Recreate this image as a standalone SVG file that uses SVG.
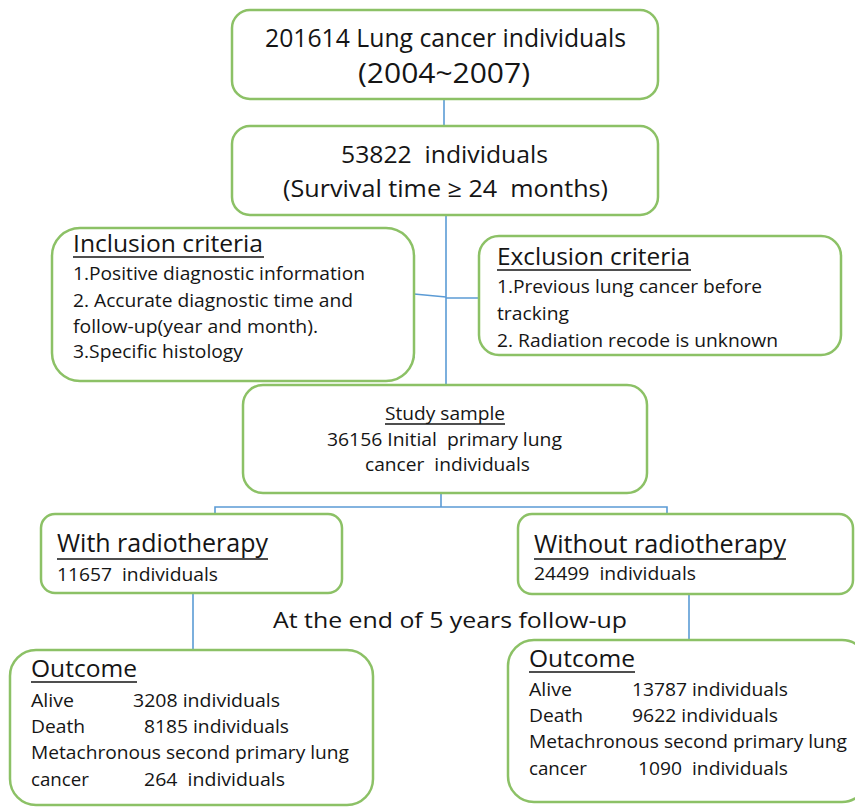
<svg xmlns="http://www.w3.org/2000/svg" width="855" height="809" viewBox="0 0 855 809">
<style>
.box{fill:#fff;stroke:#8CC166;stroke-width:2.5}
.con{stroke:#5B9BD5;stroke-width:1.6;fill:none}
text{font-family:"Open Sans","Liberation Sans",sans-serif;fill:#151515;white-space:pre}
.ul{stroke:#151515;stroke-width:1.6}
</style>
<rect width="855" height="809" fill="#fff"/>
<g id="connectors">
<line class="con" x1="444" y1="99" x2="444" y2="126"/>
<line class="con" x1="446" y1="215" x2="446" y2="385"/>
<polyline class="con" points="414,294 446,297"/>
<line class="con" x1="446" y1="298" x2="479" y2="298"/>
<line class="con" x1="414" y1="305" x2="414" y2="358"/>
<line class="con" x1="441" y1="493" x2="441" y2="507"/>
<polyline class="con" points="215,514 215,507 667,507 667,514"/>
<line class="con" x1="193" y1="593" x2="193" y2="650"/>
<line class="con" x1="689" y1="594" x2="689" y2="640"/>
</g>
<g id="n1">
<rect class="box" x="232" y="10" width="426" height="89" rx="18"/>
<text x="265" y="47" font-size="25" textLength="361" lengthAdjust="spacingAndGlyphs">201614 Lung cancer individuals</text>
<text x="358" y="83" font-size="28" textLength="172" lengthAdjust="spacingAndGlyphs">(2004~2007)</text>
</g>
<g id="n2">
<rect class="box" x="232" y="126" width="426" height="89" rx="18"/>
<text x="341" y="163" font-size="23" textLength="207" lengthAdjust="spacingAndGlyphs">53822  individuals</text>
<text x="283" y="197" font-size="23" textLength="325" lengthAdjust="spacingAndGlyphs">(Survival time ≥ 24  months)</text>
</g>
<g id="inclusion">
<rect class="box" x="52" y="228" width="362" height="153" rx="28"/>
<text x="73" y="252" font-size="24" textLength="190" lengthAdjust="spacingAndGlyphs">Inclusion criteria</text>
<line class="ul" x1="73" y1="257" x2="264" y2="257"/>
<text x="73" y="280" font-size="19" textLength="292" lengthAdjust="spacingAndGlyphs">1.Positive diagnostic information</text>
<text x="73" y="307" font-size="19" textLength="280" lengthAdjust="spacingAndGlyphs">2. Accurate diagnostic time and</text>
<text x="73" y="333" font-size="19" textLength="245" lengthAdjust="spacingAndGlyphs">follow-up(year and month).</text>
<text x="73" y="358" font-size="19" textLength="170" lengthAdjust="spacingAndGlyphs">3.Specific histology</text>
</g>
<g id="exclusion">
<rect class="box" x="479" y="236" width="362" height="119" rx="20"/>
<text x="497" y="265" font-size="24" textLength="193" lengthAdjust="spacingAndGlyphs">Exclusion criteria</text>
<line class="ul" x1="497" y1="270" x2="691" y2="270"/>
<text x="497" y="293" font-size="19" textLength="265" lengthAdjust="spacingAndGlyphs">1.Previous lung cancer before</text>
<text x="497" y="320" font-size="19" textLength="72" lengthAdjust="spacingAndGlyphs">tracking</text>
<text x="497" y="347" font-size="19" textLength="281" lengthAdjust="spacingAndGlyphs">2. Radiation recode is unknown</text>
</g>
<g id="study">
<rect class="box" x="243" y="385" width="404" height="108" rx="20"/>
<text x="385" y="420" font-size="19" textLength="120" lengthAdjust="spacingAndGlyphs">Study sample</text>
<line class="ul" x1="385" y1="424" x2="505" y2="424"/>
<text x="327" y="446" font-size="19" textLength="235" lengthAdjust="spacingAndGlyphs">36156 Initial  primary lung</text>
<text x="365" y="471" font-size="19" textLength="165" lengthAdjust="spacingAndGlyphs">cancer  individuals</text>
</g>
<g id="with">
<rect class="box" x="41" y="514" width="301" height="79" rx="14"/>
<text x="57" y="552" font-size="25" textLength="211" lengthAdjust="spacingAndGlyphs">With radiotherapy</text>
<line class="ul" x1="57" y1="559" x2="268" y2="559"/>
<text x="57" y="581" font-size="19" textLength="161" lengthAdjust="spacingAndGlyphs">11657  individuals</text>
</g>
<g id="without">
<rect class="box" x="518" y="514" width="335" height="80" rx="14"/>
<text x="534" y="553" font-size="25" textLength="252" lengthAdjust="spacingAndGlyphs">Without radiotherapy</text>
<line class="ul" x1="534" y1="559" x2="786" y2="559"/>
<text x="534" y="580" font-size="19" textLength="162" lengthAdjust="spacingAndGlyphs">24499  individuals</text>
</g>
<g id="followup">
<text x="273" y="628" font-size="22" textLength="354" lengthAdjust="spacingAndGlyphs">At the end of 5 years follow-up</text>
</g>
<g id="outcome-with">
<rect class="box" x="10" y="650" width="363" height="155" rx="26"/>
<text x="31" y="677" font-size="24" textLength="106" lengthAdjust="spacingAndGlyphs">Outcome</text>
<line class="ul" x1="31" y1="682" x2="137" y2="682"/>
<text x="31" y="707" font-size="19" textLength="43" lengthAdjust="spacingAndGlyphs">Alive</text>
<text x="133" y="707" font-size="19" textLength="147" lengthAdjust="spacingAndGlyphs">3208 individuals</text>
<text x="31" y="733" font-size="19" textLength="54" lengthAdjust="spacingAndGlyphs">Death</text>
<text x="144" y="733" font-size="19" textLength="145" lengthAdjust="spacingAndGlyphs">8185 individuals</text>
<text x="31" y="759" font-size="19" textLength="318" lengthAdjust="spacingAndGlyphs">Metachronous second primary lung</text>
<text x="31" y="786" font-size="19" textLength="58" lengthAdjust="spacingAndGlyphs">cancer</text>
<text x="144" y="786" font-size="19" textLength="141" lengthAdjust="spacingAndGlyphs">264  individuals</text>
</g>
<g id="outcome-without">
<rect class="box" x="508" y="640" width="360" height="162" rx="26"/>
<text x="529" y="667" font-size="24" textLength="106" lengthAdjust="spacingAndGlyphs">Outcome</text>
<line class="ul" x1="529" y1="672" x2="635" y2="672"/>
<text x="529" y="696" font-size="19" textLength="43" lengthAdjust="spacingAndGlyphs">Alive</text>
<text x="632" y="696" font-size="19" textLength="156" lengthAdjust="spacingAndGlyphs">13787 individuals</text>
<text x="529" y="722" font-size="19" textLength="54" lengthAdjust="spacingAndGlyphs">Death</text>
<text x="632" y="722" font-size="19" textLength="146" lengthAdjust="spacingAndGlyphs">9622 individuals</text>
<text x="529" y="748" font-size="19" textLength="318" lengthAdjust="spacingAndGlyphs">Metachronous second primary lung</text>
<text x="529" y="775" font-size="19" textLength="58" lengthAdjust="spacingAndGlyphs">cancer</text>
<text x="638" y="775" font-size="19" textLength="150" lengthAdjust="spacingAndGlyphs">1090  individuals</text>
</g>
</svg>
